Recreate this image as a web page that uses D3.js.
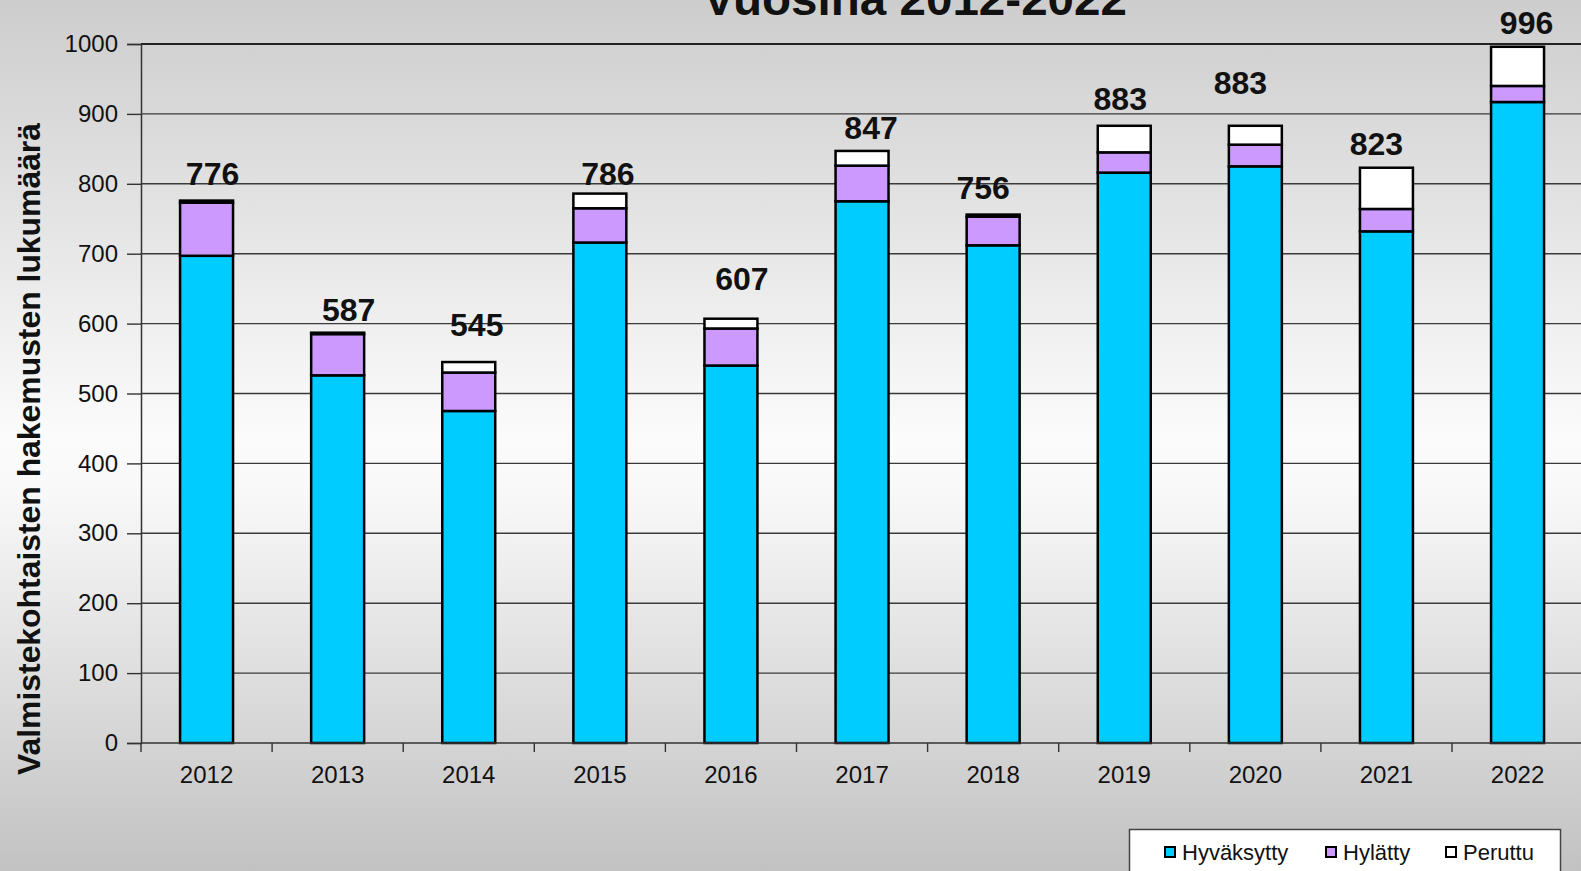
<!DOCTYPE html>
<html>
<head>
<meta charset="utf-8">
<script src="https://cdn.jsdelivr.net/npm/d3@7"></script>
<style>
  body { margin: 0; overflow: hidden; background: #cccccc; }
  svg { display: block; }
  text { font-family: "Liberation Sans", Arial, sans-serif; }
</style>
</head>
<body>
<div id="chart"></div>
<script>
// data
var years = ["2012", "2013", "2014", "2015", "2016", "2017", "2018", "2019", "2020", "2021", "2022"];
var hyvaksytty = [697, 526, 475, 716, 540, 775, 712, 816, 825, 732, 917];
var hylatty    = [76, 59, 55, 49, 53, 51, 41, 29, 31, 32, 23];
var peruttu    = [3, 2, 15, 21, 14, 21, 3, 38, 27, 59, 56];
var seriesNames = ["Hyväksytty", "Hylätty", "Peruttu"];
var yTicks = [0, 100, 200, 300, 400, 500, 600, 700, 800, 900, 1000];

var titleText = "Vuosina 2012-2022";
var yTitle = "Valmistekohtaisten hakemusten lukumäärä";

// hand placed total labels in the original (dx from bar centre, gap above bar top), px
var labelNudge = [[6, 16], [11, 12], [8, 26], [8, 9], [11, 29], [9, 12],
                  [-10, 16], [-4, 16], [-15, 32], [-10, 13], [9, 13]];

var colors = {"Hyväksytty": "#00ccff", "Hylätty": "#cc99ff", "Peruttu": "#ffffff"};

var width = 1581, height = 871;
var margins = {left: 141, top: 44, bottom: 128};
var step = 131.1;

var rows = years.map(function (y, i) {
    return {year: y, "Hyväksytty": hyvaksytty[i], "Hylätty": hylatty[i], "Peruttu": peruttu[i]};
});

var svg = d3.select("#chart").append("svg")
    .attr("width", width)
    .attr("height", height);

// slide background gradient
var grad = svg.append("defs").append("linearGradient")
    .attr("id", "bg").attr("x1", 0).attr("y1", 0).attr("x2", 0).attr("y2", 1);
grad.append("stop").attr("offset", 0).attr("stop-color", "#cdcdcd");
grad.append("stop").attr("offset", 0.5).attr("stop-color", "#fbfbfb");
grad.append("stop").attr("offset", 0.56).attr("stop-color", "#f9f9f9");
grad.append("stop").attr("offset", 1).attr("stop-color", "#c2c2c2");

svg.append("rect")
    .attr("width", width).attr("height", height)
    .attr("fill", "url(#bg)");

var x = d3.scaleBand()
    .domain(years)
    .range([margins.left, margins.left + step * years.length])
    .paddingInner(0.596)
    .paddingOuter(0.298);

var y = d3.scaleLinear()
    .domain([0, 1000])
    .range([height - margins.bottom, margins.top]);

var y0 = y(0);

// gridlines
svg.append("g").attr("class", "grid")
    .selectAll("line")
    .data(yTicks.filter(function (d) { return d > 0; }))
    .enter().append("line")
    .attr("x1", margins.left).attr("x2", width)
    .attr("y1", function (d) { return y(d); })
    .attr("y2", function (d) { return y(d); })
    .attr("stroke", function (d) { return d === 1000 ? "#222" : "#3a3a3a"; })
    .attr("stroke-width", function (d) { return d === 1000 ? 2 : 1.4; });

// y axis
var yAxis = d3.axisLeft(y).tickValues(yTicks).tickFormat(d3.format("d"))
    .tickSize(14).tickPadding(9);
var yG = svg.append("g")
    .attr("transform", "translate(" + margins.left + ",0)")
    .call(yAxis);
yG.select(".domain").attr("stroke", "#333").attr("stroke-width", 1.5);
yG.selectAll(".tick line").attr("stroke", "#333").attr("stroke-width", 1.4);
yG.selectAll(".tick text")
    .attr("font-size", 24).attr("fill", "#111")
    .style("font-family", "'Liberation Sans', Arial, sans-serif");

// stacked bars
var stack = d3.stack().keys(seriesNames);
var layers = stack(rows);

svg.append("g").attr("class", "bars")
    .selectAll("g")
    .data(layers)
    .enter().append("g")
    .attr("fill", function (d) { return colors[d.key]; })
    .selectAll("rect")
    .data(function (d) { return d; })
    .enter().append("rect")
    .attr("x", function (d) { return x(d.data.year); })
    .attr("width", x.bandwidth())
    .attr("y", function (d) { return y(d[1]); })
    .attr("height", function (d) { return y(d[0]) - y(d[1]); })
    .attr("stroke", "#000")
    .attr("stroke-width", 2.5);

// x axis
svg.append("line")
    .attr("x1", margins.left).attr("x2", width)
    .attr("y1", y0).attr("y2", y0)
    .attr("stroke", "#333").attr("stroke-width", 1.5);

svg.append("g").selectAll("line")
    .data(d3.range(years.length + 1))
    .enter().append("line")
    .attr("x1", function (i) { return margins.left + i * x.step(); })
    .attr("x2", function (i) { return margins.left + i * x.step(); })
    .attr("y1", y0).attr("y2", y0 + 9)
    .attr("stroke", "#333").attr("stroke-width", 1.4);

var xAxis = d3.axisBottom(x).tickSize(0).tickPadding(23);
var xG = svg.append("g")
    .attr("transform", "translate(0," + y0 + ")")
    .call(xAxis);
xG.select(".domain").remove();
xG.selectAll(".tick text")
    .attr("font-size", 24).attr("fill", "#111")
    .style("font-family", "'Liberation Sans', Arial, sans-serif");

// totals above bars
svg.append("g").attr("class", "totals")
    .selectAll("text")
    .data(rows)
    .enter().append("text")
    .attr("x", function (d, i) { return x(d.year) + x.bandwidth() / 2 + labelNudge[i][0]; })
    .attr("y", function (d, i) {
        return y(d["Hyväksytty"] + d["Hylätty"] + d["Peruttu"]) - labelNudge[i][1];
    })
    .attr("text-anchor", "middle")
    .attr("font-size", 32).attr("font-weight", "bold").attr("fill", "#111")
    .text(function (d) { return d["Hyväksytty"] + d["Hylätty"] + d["Peruttu"]; });

// title (upper line is cut off in the original)
svg.append("text")
    .attr("x", 915).attr("y", 15)
    .attr("text-anchor", "middle")
    .attr("font-size", 47).attr("font-weight", "bold").attr("fill", "#111")
    .attr("textLength", 424).attr("lengthAdjust", "spacingAndGlyphs")
    .text(titleText);

// y axis title
svg.append("text")
    .attr("transform", "translate(40,449) rotate(-90)")
    .attr("text-anchor", "middle")
    .attr("font-size", 32).attr("font-weight", "bold").attr("fill", "#111")
    .attr("textLength", 652).attr("lengthAdjust", "spacingAndGlyphs")
    .text(yTitle);

// legend
var legend = svg.append("g").attr("class", "legend");
legend.append("rect")
    .attr("x", 1129.5).attr("y", 829.5)
    .attr("width", 431).attr("height", 60)
    .attr("fill", "#fff").attr("stroke", "#444").attr("stroke-width", 1.5);

var legendX = [1165, 1326, 1446];
var items = legend.selectAll("g.item")
    .data(seriesNames)
    .enter().append("g")
    .attr("class", "item")
    .attr("transform", function (d, i) { return "translate(" + legendX[i] + ",847)"; });

items.append("rect")
    .attr("width", 10).attr("height", 10)
    .attr("fill", function (d) { return colors[d]; })
    .attr("stroke", "#000").attr("stroke-width", 2);

items.append("text")
    .attr("x", 17).attr("y", 13)
    .attr("font-size", 22).attr("fill", "#111")
    .text(function (d) { return d; });
</script>
</body>
</html>
